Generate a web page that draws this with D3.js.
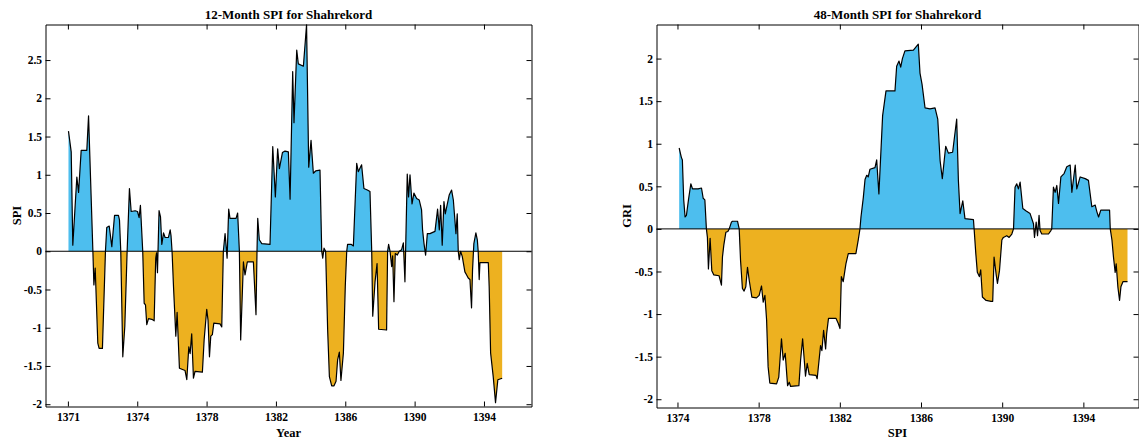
<!DOCTYPE html>
<html><head><meta charset="utf-8">
<script src="https://cdn.jsdelivr.net/npm/d3@7"></script>
<style>
body{margin:0;background:#fff}
svg{display:block}
text{font-family:"Liberation Serif","Times New Roman",serif;font-weight:bold;fill:#000}
</style>
</head><body>
<svg id="c" width="1139" height="439"></svg>
<script>
// ---- 12-month SPI (months after start of 1371) ----
const spi12Months = [0.4,2.3,3.4,6.2,7.4,9.2,13.1,14.3,17.3,18.0,18.9,20.7,21.6,23.9,26.0,26.9,28.6,30.4,32.3,35.0,35.7,36.6,38.0,39.4,41.0,42.6,43.8,46.5,48.2,49.3,50.2,51.8,52.8,53.7,54.6,55.8,58.1,59.7,60.8,61.4,62.0,63.1,64.1,65.0,66.2,67.3,69.6,70.8,71.4,72.1,73.1,74.7,75.6,77.2,81.1,82.3,83.7,84.6,85.7,86.9,88.0,93.1,94.3,96.1,97.0,98.0,98.9,100.0,101.0,105.3,106.5,107.6,108.8,110.2,111.3,112.2,116.4,117.5,118.7,119.6,121.5,122.6,124.2,128.4,130.2,130.9,131.4,132.5,134.2,139.9,141.8,143.6,145.2,146.4,148.5,150.3,152.6,153.8,155.6,156.5,158.4,159.5,163.0,165.2,166.7,168.3,169.9,171.5,174.5,175.7,176.4,177.3,178.4,179.8,181.0,182.6,184.2,185.6,186.7,187.9,189.0,190.7,192.0,193.0,193.6,196.0,197.6,199.9,201.0,203.3,204.9,207.3,209.1,210.3,211.0,212.6,214.0,215.1,220.6,221.3,222.0,223.0,224.1,224.8,225.7,226.6,228.0,229.4,231.0,232.2,233.3,234.9,235.8,236.8,238.2,239.5,241.4,243.2,244.8,245.5,246.5,247.6,248.8,250.6,254.1,255.9,257.1,258.0,259.1,260.3,261.2,264.0,265.6,266.8,268.6,269.5,270.2,270.9,271.8,273.0,274.8,276.0,277.1,278.3,279.4,280.1,281.0,282.4,283.4,284.0,284.7,285.2,291.0,291.6,292.6,294.4,296.0,297.6,300.6];
const spi12Values = [1.57,1.30,0.08,0.97,0.77,1.32,1.32,1.77,0,-0.44,-0.22,-1.20,-1.27,-1.27,0,0.31,0.33,0.06,0.47,0.47,0.41,0,-1.38,-0.98,0,0.82,0.52,0.53,0.52,0.44,0.60,0,-0.68,-0.70,-0.96,-0.88,-0.89,-0.91,-0.09,-0.02,-0.28,0.53,0.45,0.09,0.24,0.18,0.18,0.28,0.20,0,-0.46,-1.11,-0.80,-1.53,-1.56,-1.68,-1.25,-1.34,-1.08,-1.66,-1.57,-1.58,-1.16,-0.76,-0.90,-1.38,-1.11,-1.09,-0.94,-0.95,-0.99,0,0.23,-0.09,0.55,0.43,0.43,0.50,0,-1.16,-0.14,-0.31,-0.14,-0.14,-0.83,0,0.43,0.15,0.10,0.09,1.37,0.71,1.34,1.08,1.29,1.31,1.30,0.68,2.35,1.68,2.63,2.45,2.42,2.96,1.10,1.45,1.02,1.05,1.06,0,-0.09,0.04,0,-1.03,-1.64,-1.76,-1.76,-1.70,-1.42,-1.32,-1.69,-1.33,-0.46,0,0.09,0.09,0.07,1.15,1.04,1.13,0.82,0.80,0.78,0,-0.85,-0.40,-0.16,-1.02,-1.03,0,0.09,0,-0.20,-0.06,-0.66,-0.03,-0.05,0,0.02,0.11,-0.40,1.01,0.71,1.00,0.62,0.76,0.69,0.67,0.54,0.28,0.10,-0.05,0.23,0.23,0.26,0.55,0.28,0.60,0.08,0.65,0.49,0.74,0.80,0.67,0.23,0.49,0,-0.11,0,-0.07,-0.27,-0.31,-0.35,-0.37,-0.74,-0.24,0.10,0.24,0.15,0,-0.37,-0.15,-0.15,-0.46,-1.33,-1.64,-1.98,-1.68,-1.66];
const spi12TickMonths = [0,48,96,144,192,240,288];
const spi12TickLabels = ["1371","1374","1378","1382","1386","1390","1394"];
const spi12YTicks = [-2,-1.5,-1,-0.5,0,0.5,1,1.5,2,2.5];

// ---- 48-month SPI (months after start of 1374) ----
const spi48Months = [1.0,2.3,2.9,3.7,4.5,5.3,6.5,7.9,8.9,12.2,14.2,15.2,16.2,17.1,17.7,18.3,19.3,20.3,21.5,24.6,26.0,26.6,27.4,28.6,29.8,30.6,31.9,32.5,35.5,36.5,37.3,38.4,39.4,40.4,41.4,42.4,44.0,46.7,48.3,49.7,50.7,51.7,52.7,53.6,54.6,58.6,59.9,61.5,62.5,63.7,65.1,66.1,66.9,71.8,72.8,74.0,75.7,76.7,77.9,81.9,82.6,84.6,85.4,86.4,87.6,88.2,89.3,93.7,95.1,96.1,96.9,98.0,99.6,101.0,105.5,106.9,107.9,108.5,109.9,110.9,111.9,112.8,113.8,116.8,117.8,119.1,121.3,123.3,128.6,129.6,131.0,132.0,133.0,134.5,139.5,142.4,143.4,144.6,146.4,149.3,152.3,153.9,155.3,156.6,158.6,160.2,162.7,165.1,166.1,167.1,168.7,170.0,175.0,175.4,176.4,177.3,178.5,179.3,180.3,182.5,185.4,186.4,187.2,188.4,189.2,190.4,191.8,192.7,194.7,196.1,197.7,198.7,199.6,200.6,201.6,202.6,204.2,206.2,208.5,210.5,211.1,212.1,212.9,213.8,214.4,215.4,219.4,220.8,221.3,222.3,223.3,224.3,225.3,226.7,228.6,230.2,232.2,233.2,235.2,236.1,238.1,241.1,243.0,245.0,247.0,248.0,249.0,250.3,255.5,255.9,256.9,257.8,258.8,259.4,260.4,261.4,262.2,263.4,266.1];
const spi48Values = [0.95,0.84,0.81,0.34,0.14,0.16,0.34,0.53,0.47,0.47,0.48,0.36,0.34,0,-0.10,-0.47,-0.11,-0.49,-0.54,-0.55,-0.66,-0.33,-0.19,-0.04,-0.03,0,0.08,0.09,0.09,0,-0.37,-0.70,-0.73,-0.68,-0.45,-0.60,-0.80,-0.81,-0.78,-0.67,-0.86,-0.78,-1.07,-1.62,-1.81,-1.82,-1.74,-1.29,-1.54,-1.46,-1.84,-1.80,-1.85,-1.84,-1.54,-1.29,-1.73,-1.58,-1.71,-1.72,-1.76,-1.37,-1.43,-1.19,-1.41,-1.23,-1.05,-1.05,-1.11,-1.17,-0.56,-0.62,-0.41,-0.29,-0.29,-0.13,0,0.14,0.37,0.58,0.63,0.61,0.70,0.72,0.81,0.41,1.33,1.62,1.62,1.91,1.97,1.90,2.00,2.09,2.10,2.17,1.83,1.70,1.42,1.41,1.42,1.29,0.80,0.59,0.97,0.89,0.90,1.29,0.57,0.18,0.33,0.12,0.11,0,-0.29,-0.51,-0.56,-0.48,-0.80,-0.84,-0.85,-0.85,-0.33,-0.53,-0.64,-0.49,-0.13,-0.10,-0.08,-0.10,-0.06,0,0.49,0.53,0.47,0.55,0.24,0.21,0.18,0.06,-0.10,0.08,-0.08,0.16,-0.02,-0.06,-0.06,-0.02,0,0.49,0.43,0.51,0.30,0.61,0.65,0.73,0.75,0.43,0.75,0.47,0.61,0.59,0.57,0.26,0.28,0.20,0.14,0.22,0.22,0,-0.13,-0.33,-0.51,-0.41,-0.68,-0.84,-0.68,-0.62,-0.62];
const spi48TickMonths = [0,48,96,144,192,240];
const spi48TickLabels = ["1374","1378","1382","1386","1390","1394"];
const spi48YTicks = [-2,-1.5,-1,-0.5,0,0.5,1,1.5,2];

const svg = d3.select("#c");
const defs = svg.append("defs");

function drawPanel(cfg){
  const x = d3.scaleLinear().domain(cfg.xDomain).range([cfg.left, cfg.right]);
  const y = d3.scaleLinear().domain(cfg.yDomain).range([cfg.bottom, cfg.top]);
  const data = cfg.months.map((m,i)=>({m, v: cfg.values[i]}));
  const g = svg.append("g");
  const y0 = y(0);
  defs.append("clipPath").attr("id", cfg.id+"pos").append("rect")
    .attr("x", cfg.left).attr("y", cfg.top).attr("width", cfg.right-cfg.left).attr("height", y0-cfg.top);
  defs.append("clipPath").attr("id", cfg.id+"neg").append("rect")
    .attr("x", cfg.left).attr("y", y0).attr("width", cfg.right-cfg.left).attr("height", cfg.bottom-y0);
  const area = d3.area().x(d=>x(d.m)).y0(y0).y1(d=>y(d.v));
  g.append("path").datum(data).attr("d", area).attr("fill", "#4DBEEE").attr("clip-path", `url(#${cfg.id}pos)`);
  g.append("path").datum(data).attr("d", area).attr("fill", "#EDB120").attr("clip-path", `url(#${cfg.id}neg)`);
  g.append("line").attr("x1", cfg.left).attr("x2", cfg.right).attr("y1", y0).attr("y2", y0)
    .attr("stroke", "#000").attr("stroke-width", 1);
  g.append("path").datum(data)
    .attr("d", d3.line().x(d=>x(d.m)).y(d=>y(d.v)))
    .attr("fill", "none").attr("stroke", "#000").attr("stroke-width", 1.2).attr("stroke-linejoin", "round");

  const fmt = i => cfg.tickLabels[i];
  const style = sel => {
    sel.attr("font-family", null).attr("font-size", null);
    sel.selectAll("path.domain").attr("stroke", "#000").attr("stroke-width", 1);
    sel.selectAll(".tick line").attr("stroke", "#000").attr("stroke-width", 1);
    sel.selectAll("text").style("font-size", "11.5px");
  };
  g.append("g").attr("transform", `translate(0,${cfg.bottom})`)
    .call(d3.axisBottom(x).tickValues(cfg.tickMonths).tickFormat((d,i)=>fmt(i)).tickSizeInner(-5).tickSizeOuter(0).tickPadding(6.5))
    .call(style);
  g.append("g").attr("transform", `translate(0,${cfg.top})`)
    .call(d3.axisTop(x).tickValues(cfg.tickMonths).tickFormat("").tickSizeInner(-5).tickSizeOuter(0))
    .call(style);
  g.append("g").attr("transform", `translate(${cfg.left},0)`)
    .call(d3.axisLeft(y).tickValues(cfg.yTicks).tickFormat(d=>String(d)).tickSizeInner(-5).tickSizeOuter(0).tickPadding(3.5))
    .call(style);
  g.append("g").attr("transform", `translate(${cfg.right},0)`)
    .call(d3.axisRight(y).tickValues(cfg.yTicks).tickFormat("").tickSizeInner(-5).tickSizeOuter(0))
    .call(style);

  const cx = (cfg.left + cfg.right)/2;
  g.append("text").attr("x", cx).attr("y", 19).attr("text-anchor", "middle").style("font-size", "13px").text(cfg.title);
  g.append("text").attr("x", cx).attr("y", 436.5).attr("text-anchor", "middle").style("font-size", "12.5px").text(cfg.xLabel);
  g.append("text").attr("transform", `translate(${cfg.yLabelX},${(cfg.top+cfg.bottom)/2}) rotate(-90)`)
    .attr("text-anchor", "middle").style("font-size", "12.5px").text(cfg.yLabel);
}

drawPanel({
  id: "p12", months: spi12Months, values: spi12Values,
  tickMonths: spi12TickMonths, tickLabels: spi12TickLabels, yTicks: spi12YTicks,
  xDomain: [-15.5, 320.9], yDomain: [-2.03, 2.965],
  left: 45.5, right: 531.5, top: 24.5, bottom: 406.5,
  title: "12-Month SPI for Shahrekord", xLabel: "Year", yLabel: "SPI", yLabelX: 20.5
});
drawPanel({
  id: "p48", months: spi48Months, values: spi48Values,
  tickMonths: spi48TickMonths, tickLabels: spi48TickLabels, yTicks: spi48YTicks,
  xDomain: [-12.4, 272.6], yDomain: [-2.097, 2.40],
  left: 656.5, right: 1138.5, top: 24.5, bottom: 407.5,
  title: "48-Month SPI for Shahrekord", xLabel: "SPI", yLabel: "GRI", yLabelX: 630.5
});
</script>
</body></html>
